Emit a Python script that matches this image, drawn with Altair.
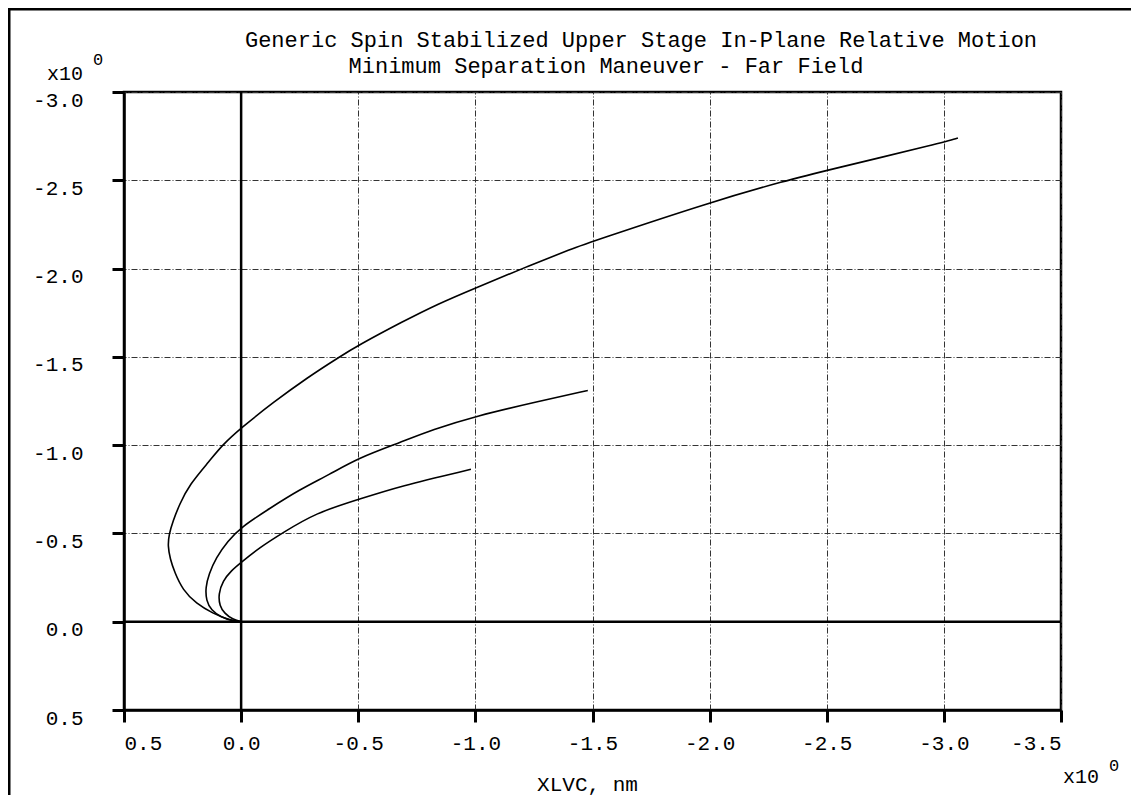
import altair as alt
import pandas as pd

# ---------------- data ----------------
TITLE_LINES = [
    "Generic Spin Stabilized Upper Stage In-Plane Relative Motion",
    "Minimum Separation Maneuver - Far Field",
]
X_TITLE = "XLVC, nm"
X_TICKS = [0.5, 0.0, -0.5, -1.0, -1.5, -2.0, -2.5, -3.0, -3.5]
Y_TICKS = [0.5, 0.0, -0.5, -1.0, -1.5, -2.0, -2.5, -3.0]
EXP_BASE = "x10"
EXP_POWER = "0"

# outer trajectory
c1_x = [0.0, 0.05, 0.121, 0.192, 0.249, 0.284, 0.303, 0.313, 0.308, 0.291, 0.263, 0.22,
        0.135, 0.081, 0.0, -0.14, -0.28, -0.42, -0.5, -0.69, -0.84, -1.0, -1.2, -1.42,
        -1.5, -2.0, -2.33, -2.5, -3.0, -3.06]
c1_y = [0.0, -0.009, -0.047, -0.103, -0.179, -0.28, -0.355, -0.43, -0.494, -0.57, -0.665, -0.778,
        -0.91, -1.0, -1.098, -1.245, -1.38, -1.50, -1.565, -1.70, -1.80, -1.89, -2.0, -2.117,
        -2.154, -2.375, -2.5, -2.556, -2.715, -2.74]

# middle trajectory
c2_x = [0.0, 0.036, 0.085, 0.128, 0.149, 0.152, 0.138, 0.107, 0.057, 0.0, -0.121,
        -0.249, -0.376, -0.5, -0.675, -0.818, -1.0, -1.27, -1.48]
c2_y = [0.0, -0.004, -0.024, -0.066, -0.118, -0.194, -0.269, -0.363, -0.457, -0.536, -0.641,
        -0.748, -0.833, -0.927, -1.013, -1.088, -1.164, -1.248, -1.31]

# inner trajectory
c3_x = [0.0, 0.036, 0.071, 0.092, 0.097, 0.078, 0.043, 0.0, -0.078, -0.178, -0.32,
        -0.5, -0.675, -0.981]
c3_y = [0.0, -0.013, -0.047, -0.09, -0.156, -0.231, -0.288, -0.335, -0.419, -0.504, -0.617,
        -0.692, -0.767, -0.863]

SERIES = [("outer", c1_x, c1_y), ("middle", c2_x, c2_y), ("inner", c3_x, c3_y)]

rows = []
for name, xs, ys in SERIES:
    for i, (xv, yv) in enumerate(zip(xs, ys)):
        rows.append({"series": name, "i": i, "x": xv, "y": yv})
df = pd.DataFrame(rows)

FONT = "Liberation Mono"
W, H = 937, 618
XDOM = [-3.5, 0.5]
YDOM = [-3.0, 0.5]

label_expr = "(datum.value < 0 ? '-' : '') + format(abs(datum.value), '.1f')"

x_enc = alt.X(
    "x:Q",
    scale=alt.Scale(domain=XDOM, reverse=True, nice=False, zero=False),
    axis=alt.Axis(
        values=X_TICKS,
        labelExpr=label_expr,
        title=X_TITLE,
        titleFont=FONT,
        titleFontSize=21,
        titleFontWeight="normal",
        titleColor="black",
        titleBaseline="alphabetic",
        titleY=80,
        titleX=463,
        labelPadding=10,
        labelBaseline="top",
    ),
)
y_enc = alt.Y(
    "y:Q",
    scale=alt.Scale(domain=YDOM, reverse=True, nice=False, zero=False),
    axis=alt.Axis(
        values=Y_TICKS,
        labelExpr=label_expr,
        title=None,
        labelPadding=29,
        labelBaseline="top",
        labelOffset=-3,
    ),
)

lines = alt.Chart(df).mark_line(
    color="black", strokeWidth=1.6, interpolate="basis", clip=True
).encode(x=x_enc, y=y_enc, detail="series:N", order="i:Q")

zero_df = pd.DataFrame({"v": [0.0]})
vzero = alt.Chart(zero_df).mark_rule(color="black", strokeWidth=2.5).encode(
    x=alt.X("v:Q", scale=alt.Scale(domain=XDOM, reverse=True, nice=False, zero=False))
)
hzero = alt.Chart(zero_df).mark_rule(color="black", strokeWidth=2.5).encode(
    y=alt.Y("v:Q", scale=alt.Scale(domain=YDOM, reverse=True, nice=False, zero=False))
)

one = pd.DataFrame({"a": [0]})


def label(txt, px, py, size, align="left"):
    return alt.Chart(one).mark_text(
        font=FONT, fontSize=size, align=align, baseline="alphabetic", color="black"
    ).encode(x=alt.value(px), y=alt.value(py), text=alt.value(txt))


title1 = label(TITLE_LINES[0], 517, -45, 22, "center")
title2 = label(TITLE_LINES[1], 482, -19, 22, "center")
exp_y_base = label(EXP_BASE, -77, -12, 20)
exp_y_pow = label(EXP_POWER, -31, -27, 17)
exp_x_base = label(EXP_BASE, 939, 691, 20)
exp_x_pow = label(EXP_POWER, 985, 679, 17)

border_top = alt.Chart(one).mark_rule(color="black", strokeWidth=3).encode(
    x=alt.value(-116), x2=alt.value(1100), y=alt.value(-83))
border_left = alt.Chart(one).mark_rule(color="black", strokeWidth=3).encode(
    x=alt.value(-115), y=alt.value(-84), y2=alt.value(800))

chart = alt.layer(
    lines, vzero, hzero, title1, title2, exp_y_base, exp_y_pow, exp_x_base, exp_x_pow,
    border_top, border_left
).properties(
    width=W,
    height=H,
    background="white",
    autosize=alt.AutoSizeParams(type="none"),
    padding={"left": 116, "top": 84, "right": 70, "bottom": 85},
).configure_view(
    stroke="black", strokeWidth=2.5
).configure_axis(
    labelFont=FONT,
    labelFontSize=21,
    labelColor="black",
    domainColor="black",
    domainWidth=2.5,
    tickColor="black",
    tickWidth=3,
    tickSize=12,
    grid=True,
    gridColor="#333333",
    gridWidth=1,
    gridDash=[6, 2, 1, 2],
    gridOpacity=1,
)

chart.save("out.html", embed_options={"renderer": "svg", "actions": False})
